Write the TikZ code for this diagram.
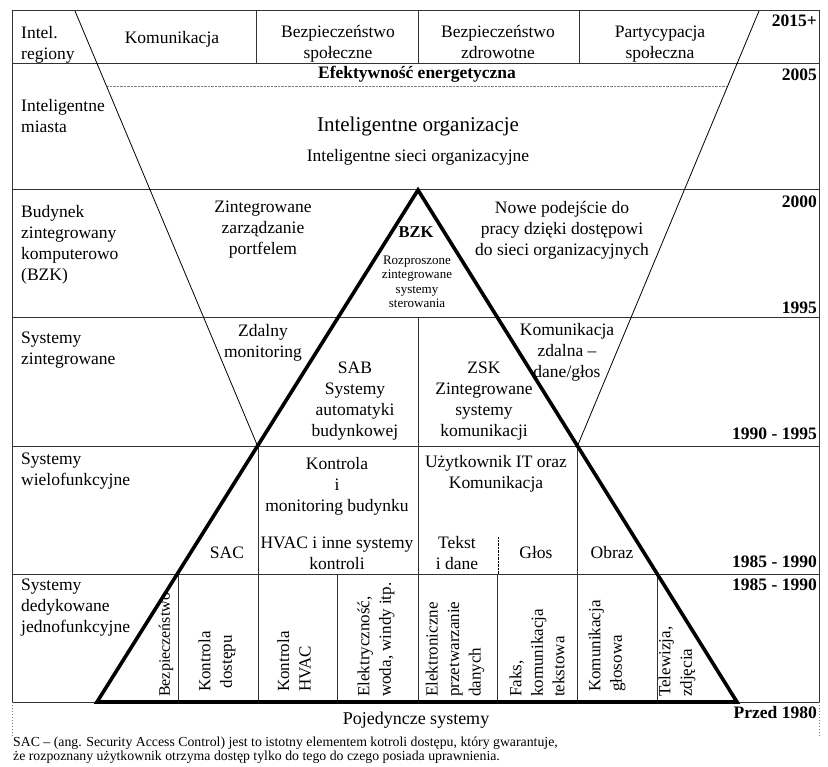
\documentclass[tikz,border=0pt]{standalone}
\usepackage{fontspec}
\setmainfont{Liberation Serif}

\begin{document}
\begin{tikzpicture}[x=1pt, y=-1pt,
        txt/.style={font=\fontsize{17.5}{21}\selectfont, align=center, inner sep=0pt},
        lft/.style={txt, align=left, anchor=west},
        yr/.style={font=\fontsize{17.5}{20}\selectfont\bfseries, anchor=east, inner sep=0pt},
        small/.style={font=\fontsize{13}{14.5}\selectfont, align=center, inner sep=0pt},
        rot/.style={font=\fontsize{17}{21.5}\selectfont, inner sep=0pt, rotate=90, anchor=west, align=left},
        grid/.style={line width=1pt, black!80},
        vline/.style={line width=0.8pt},
        tri/.style={line width=3.6pt, line join=miter}]
                    \useasboundingbox (0, 0) rectangle (828, 767);

                    \coordinate (vl) at (75, 11);
                    \coordinate (vr) at (759, 11);
                    \coordinate (vtipl) at (258, 447);
                    \coordinate (vtipr) at (577, 447);
                    \coordinate (apex) at (418, 190);
                    \coordinate (basel) at (97, 702);
                    \coordinate (baser) at (737, 702);

                    \draw [grid] (12, 11) rectangle (819, 702);
                    \foreach \yy in {64, 190, 318, 447, 574}
                        \draw [grid] (12, \yy) -- (819, \yy);
                    \foreach \xx in {256, 418, 579}
                        \draw [grid] (\xx, 11) -- (\xx, 64);
                    \draw [grid] (418, 318) -- (418, 447);
                    \foreach \xx in {258, 418, 577}
                        \draw [grid] (\xx, 447) -- (\xx, 574);
                    \foreach \xx in {178, 258, 337, 418, 497, 577, 657}
                        \draw [grid] (\xx, 574) -- (\xx, 702);
                    \draw [densely dotted] (498, 537) -- (498, 574);
                    \draw [gray, densely dotted] (107, 86) -- (727, 86);
                    \draw [gray, dotted, line width=1pt] (12, 702) -- (12, 737);
                    \draw [gray, dotted, line width=1pt] (819, 702) -- (819, 737);

                    \draw [vline] (vl) -- (vtipl);
                    \draw [vline] (vr) -- (vtipr);
                    \draw [tri] (basel) -- (apex) -- (baser) -- cycle;

                    \node [lft] (intel) at (21, 45) {Intel.\\regiony};
                    \node [txt] (komun) at (172, 39) {Komunikacja};
                    \node [txt] (bspol) at (338, 44) {Bezpieczeństwo\\społeczne};
                    \node [txt] (bzdr) at (498, 42) {Bezpieczeństwo\\zdrowotne};
                    \node [txt] (party) at (660, 44) {Partycypacja\\społeczna};
                    \node [yr] (y2015) at (817, 21) {2015+};

                    \node [txt, font=\fontsize{17.5}{21}\selectfont\bfseries] (efekt) at (417, 74) {Efektywność energetyczna};
                    \node [yr] (y2005) at (817, 75) {2005};
                    \node [lft] (miasta) at (21, 116) {Inteligentne\\miasta};
                    \node [txt, font=\fontsize{21}{25}\selectfont] (org) at (418, 126) {Inteligentne organizacje};
                    \node [txt] (sieci) at (418, 157) {Inteligentne sieci organizacyjne};

                    \node [lft] (bzkl) at (21, 245) {Budynek\\zintegrowany\\komputerowo\\(BZK)};
                    \node [txt] (portfel) at (263, 230) {Zintegrowane\\zarządzanie\\portfelem};
                    \node [txt, font=\fontsize{16.5}{20}\selectfont\bfseries] (bzk) at (416, 232) {BZK};
                    \node [small] (rozpr) at (417, 282) {Rozproszone\\zintegrowane\\systemy\\sterowania};
                    \node [txt] (nowe) at (562, 230) {Nowe podejście do\\pracy dzięki dostępowi\\do sieci organizacyjnych};
                    \node [yr] (y2000) at (817, 202) {2000};
                    \node [yr] (y1995) at (817, 308) {1995};

                    \node [lft] (zinteg) at (21, 350) {Systemy\\zintegrowane};
                    \node [txt] (zdalny) at (263, 343) {Zdalny\\monitoring};
                    \node [txt] (sab) at (355, 401) {SAB\\Systemy\\automatyki\\budynkowej};
                    \node [txt] (zsk) at (484, 401) {ZSK\\Zintegrowane\\systemy\\komunikacji};
                    \node [txt] (kzdal) at (567, 352) {Komunikacja\\zdalna --\\dane/głos};
                    \node [yr] (y9095) at (817, 434) {1990 - 1995};

                    \node [lft] (wielo) at (21, 471) {Systemy\\wielofunkcyjne};
                    \node [txt] (sac) at (227, 553) {SAC};
                    \node [txt] (kontr) at (337, 486) {Kontrola\\i\\monitoring budynku};
                    \node [txt] (hvac) at (337, 553) {HVAC i inne systemy\\kontroli};
                    \node [txt] (uzyt) at (496, 474) {Użytkownik IT oraz\\Komunikacja};
                    \node [txt] (tekst) at (457, 553) {Tekst\\i dane};
                    \node [txt] (glos) at (536, 553) {Głos};
                    \node [txt] (obraz) at (612, 553) {Obraz};
                    \node [yr] (y8590a) at (817, 562) {1985 - 1990};

                    \node [lft] (dedyk) at (21, 608) {Systemy\\dedykowane\\jednofunkcyjne};
                    \node [yr] (y8590b) at (817, 585) {1985 - 1990};
                    \node [rot, font=\fontsize{16}{20}\selectfont] (bezp) at (166, 697) {Bezpieczeństwo};
                    \node [rot, align=center] (dostep) at (217, 692) {Kontrola\\dostępu};
                    \node [rot] (khvac) at (294, 692) {Kontrola\\HVAC};
                    \node [rot] (elektr) at (376, 697) {Elektryczność,\\woda, windy itp.};
                    \node [rot] (przetw) at (455, 697) {Elektroniczne\\przetwarzanie\\danych};
                    \node [rot] (faks) at (537, 697) {Faks,\\komunikacja\\tekstowa};
                    \node [rot] (glosowa) at (607, 692) {Komunikacja\\głosowa};
                    \node [rot] (telew) at (677, 697) {Telewizja,\\zdjęcia};

                    \node [txt, font=\fontsize{18}{21}\selectfont] (pojed) at (416, 720) {Pojedyncze systemy};
                    \node [yr] (y1980) at (817, 713) {Przed 1980};
                    \node [anchor=north west, inner sep=0pt, align=left, font=\fontsize{13.8}{14}\selectfont] (przyp) at (13, 737) {SAC -- (ang. Security Access Control) jest to istotny elementem kotroli dostępu, który gwarantuje,\\że rozpoznany użytkownik otrzyma dostęp tylko do tego do czego posiada uprawnienia.};
                \end{tikzpicture}
\end{document}
